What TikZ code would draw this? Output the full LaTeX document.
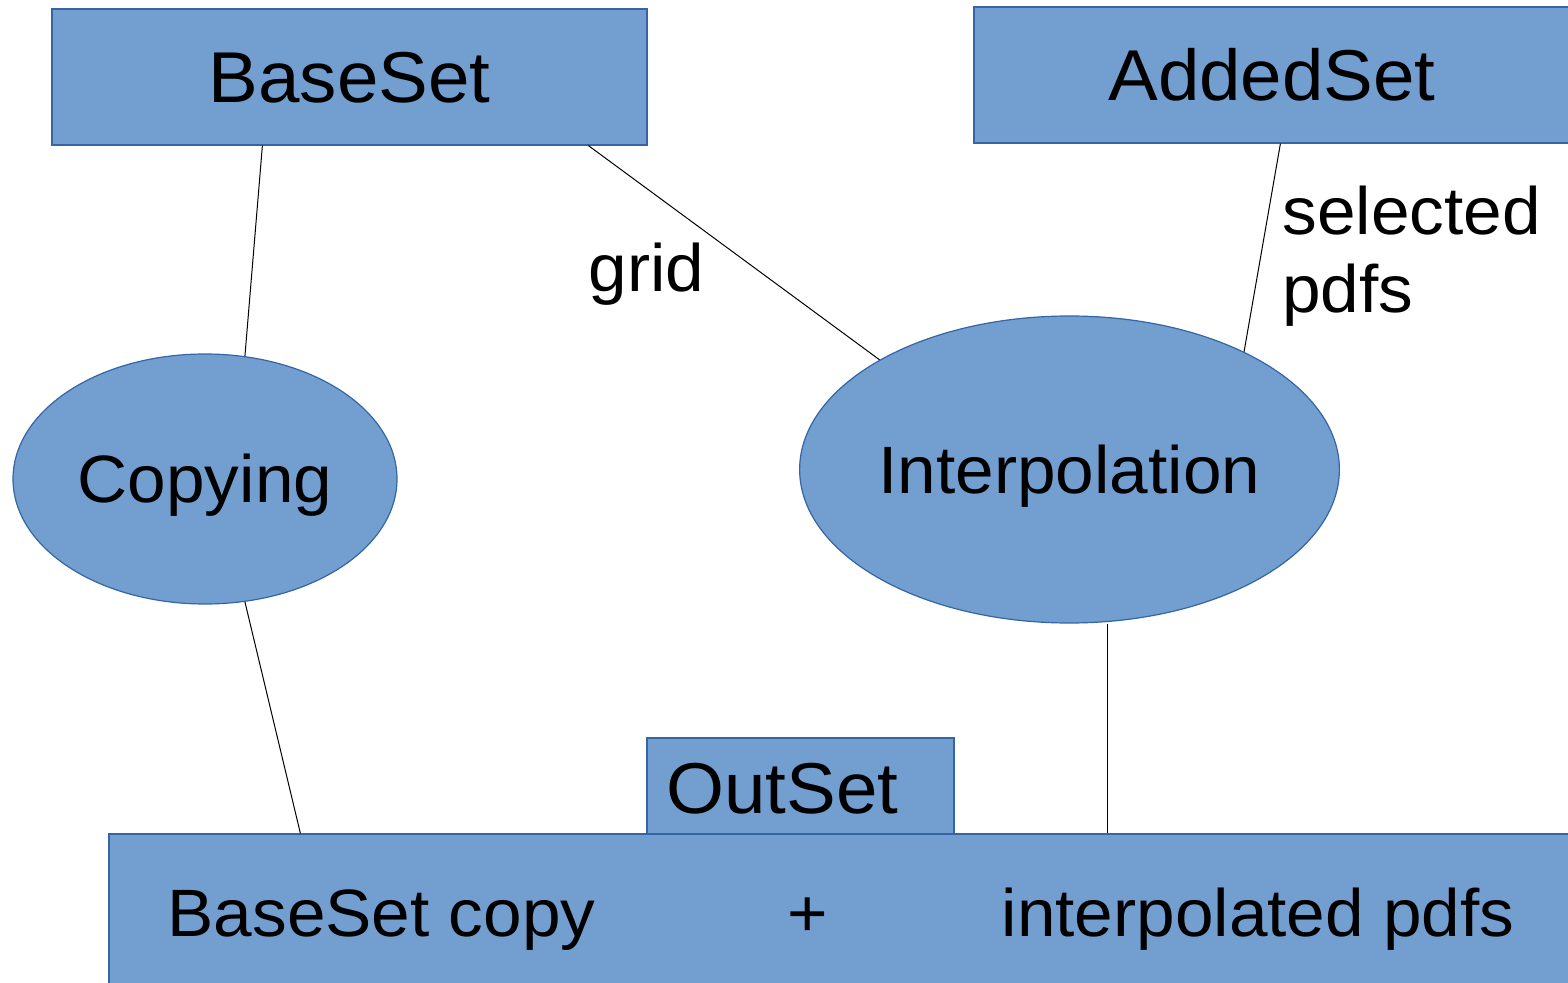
\documentclass[tikz,border=0pt]{standalone}
\usepackage{fontspec}
\setmainfont{Liberation Sans}[FakeStretch=1.035]
\usetikzlibrary{shapes.geometric,calc}
\definecolor{boxfill}{HTML}{729FCF}
\definecolor{boxline}{HTML}{3465A4}
\begin{document}
\begin{tikzpicture}[x=0.5pt,y=-0.5pt,
  setbox/.style={rectangle, draw=boxline, fill=boxfill, line width=0.6pt, inner sep=0pt},
  procell/.style={ellipse, draw=boxline, fill=boxfill, line width=0.6pt, inner sep=0pt},
  bigtext/.style={font=\fontsize{36}{43}\selectfont, inner sep=0pt},
  midtext/.style={font=\fontsize{33.5}{39}\selectfont, inner sep=0pt},
  capbig/.style={text height=25.8pt, text depth=0pt},
  capmid/.style={text height=24pt, text depth=0pt},
  link/.style={draw=black, line width=0.5pt}]
\useasboundingbox (0,0) rectangle (1568,983);
\begin{scope}
\clip (0,0) rectangle (1568,983);
% sets
\node[setbox, bigtext, capbig, minimum width=297.5pt, minimum height=68pt] (base) at (349.5,77) {BaseSet};
\node[setbox, bigtext, capbig, minimum width=298pt, minimum height=68pt] (added) at (1272,75) {AddedSet};
% processes
\node[procell, midtext, capmid, minimum width=192pt, minimum height=125pt] (copy) at (205,479) {Copying};
\node[procell, midtext, capmid, minimum width=268.5pt, minimum height=153.5pt] (interp) at (1069.5,469.5) {Interpolation};
% output
\node[setbox, minimum width=153.5pt, minimum height=48pt] (out) at (800.5,786) {};
\node[bigtext, anchor=base] (outlbl) at (782.5,813) {OutSet};
\node[setbox, minimum width=731.5pt, minimum height=76.5pt] (bottom) at (840.5,910.5) {};
\node[midtext, anchor=base] (bcopy) at (381.5,936) {BaseSet copy};
\node[midtext, anchor=base] (plus) at (808,936) {+};
\node[midtext, anchor=base] (ipdfs) at (1258,936) {interpolated pdfs};
% connectors
\coordinate (ib) at ($(bottom.north west)+(999,0)$);
\draw[link] ($(base.south west)+(211,0)$) -- (copy.72);
\draw[link] ($(base.south west)+(537,0)$) -- (interp.150);
\draw[link] ($(added.south west)+(307,0)$) -- (interp.34.5);
\draw[link] (copy.-72) -- ($(bottom.north west)+(192,0)$);
\draw[link] (interp.south -| ib) -- (ib);
% labels
\node[midtext, anchor=base] (gridlbl) at (646.5,292) {grid};
\node[midtext, anchor=base west, align=left] (sellbl) at (1282,313) {selected\\pdfs};
\end{scope}
\end{tikzpicture}
\end{document}
